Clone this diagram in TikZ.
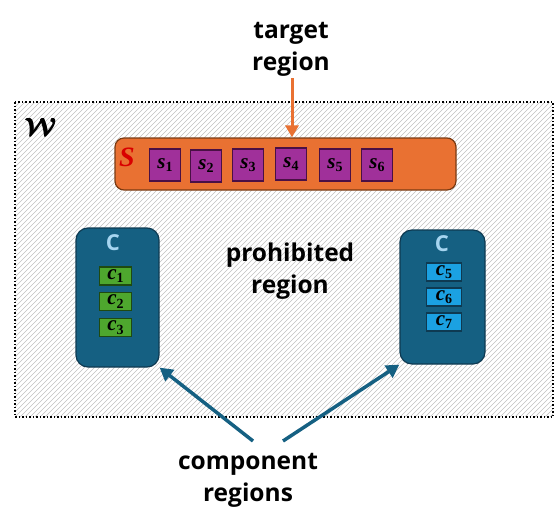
\documentclass[tikz,border=0pt]{standalone}
\usepackage{fontspec}
\usepackage{amsmath}
\usepackage{bm}
\setmainfont{Open Sans}
\newfontfamily\symfont{Liberation Serif}
\usetikzlibrary{arrows.meta,positioning}
\definecolor{orng}{HTML}{E97132}
\definecolor{brwn}{HTML}{7A3A12}
\definecolor{purp}{HTML}{A0309A}
\definecolor{dpurp}{HTML}{4A1045}
\definecolor{teal}{HTML}{156082}
\definecolor{dteal}{HTML}{0E3A52}
\definecolor{grn}{HTML}{4EA72E}
\definecolor{dgrn}{HTML}{1F4A10}
\definecolor{lblu}{HTML}{1BA1E2}
\definecolor{chead}{HTML}{A6D5F0}
\newcommand{\elem}[2]{{\symfont\bfseries\itshape #1}\raisebox{-0.3ex}{\symfont\bfseries\fontsize{14}{14}\selectfont #2}}
\begin{document}
\begin{tikzpicture}[x=1pt,y=-1pt,
    lbl/.style={font=\fontsize{24.5}{32}\selectfont\bfseries,align=center},
    sbox/.style={draw=dpurp,line width=1.5pt,fill=purp,minimum width=31pt,minimum height=32pt,inner sep=0pt,font=\fontsize{21}{22}\selectfont},
    cbox/.style={draw=dgrn,line width=1.5pt,fill=grn,minimum width=32pt,minimum height=18pt,inner sep=0pt,font=\fontsize{21}{22}\selectfont},
    dbox/.style={cbox,fill=lblu,draw=dteal},
    region/.style={draw=dteal,line width=1.2pt,fill=teal,rounded corners=12pt},
    pointer/.style={teal,line width=3.5pt,-{Triangle[length=13pt,width=14pt]}}]
  \useasboundingbox (0,0) rectangle (556,509);
  % workspace W
  \begin{scope}
    \clip (15,102) rectangle (553,417);
    \foreach \i in {-320,-315,...,560}
      \draw[gray!50,line width=0.6pt] (\i,417) -- ++(315,-315);
  \end{scope}
  \draw[dotted,line width=1.5pt] (15,102) rectangle (553,417);
  \node at (41,127) {\fontsize{30}{32}\selectfont$\pmb{\bm{\mathcal{W}}}$};
  % target region S
  \node[draw=brwn,line width=1.2pt,fill=orng,rounded corners=9pt,minimum width=341pt,minimum height=52pt] (S) at (285.5,164) {};
  \node[text=red!85!black] at (127,157) {\symfont\bfseries\itshape\fontsize{28}{30}\selectfont S};
  \node[sbox] (s1) at (165,165) {\elem{s}{1}};
  \node[sbox] (s2) at (206,166) {\elem{s}{2}};
  \node[sbox] (s3) at (248,165) {\elem{s}{3}};
  \node[sbox] (s4) at (291,164) {\elem{s}{4}};
  \node[sbox] (s5) at (335,165) {\elem{s}{5}};
  \node[sbox] (s6) at (377,165) {\elem{s}{6}};
  % component regions
  \node[region,minimum width=83pt,minimum height=139pt] (C1) at (117.5,297.5) {};
  \node[region,minimum width=85pt,minimum height=134pt] (C2) at (442.5,297) {};
  \node[text=chead,font=\fontsize{22}{24}\selectfont\bfseries] at (113,243) {C};
  \node[text=chead,font=\fontsize{22}{24}\selectfont\bfseries] at (442,244) {C};
  \node[cbox] (c1) at (115.5,276) {\elem{c}{1}};
  \node[cbox] (c2) at (115.5,301.5) {\elem{c}{2}};
  \node[cbox] (c3) at (115.5,327.5) {\elem{c}{3}};
  \node[dbox,minimum width=35pt] (c5) at (444,272) {\elem{c}{5}};
  \node[dbox,minimum width=35pt] (c6) at (444,297) {\elem{c}{6}};
  \node[dbox,minimum width=35pt] (c7) at (444,322) {\elem{c}{7}};
  % labels
  \node[lbl] (tgt) at (291,49) {target\\region};
  \node[lbl] (proh) at (290,271) {prohibited\\region};
  \node[lbl] (comp) at (248,480) {component\\regions};
  \coordinate (cl) at (253,441);
  \coordinate (cr) at (283,441);
  % arrows
  \draw[orng,line width=3pt,-{Triangle[length=12pt,width=13pt]}] (292,78) -- (S.north -| 292,0);
  \draw[pointer] (cl) -- (C1.south east);
  \draw[pointer] (cr) -- (C2.south west);
\end{tikzpicture}
\end{document}
